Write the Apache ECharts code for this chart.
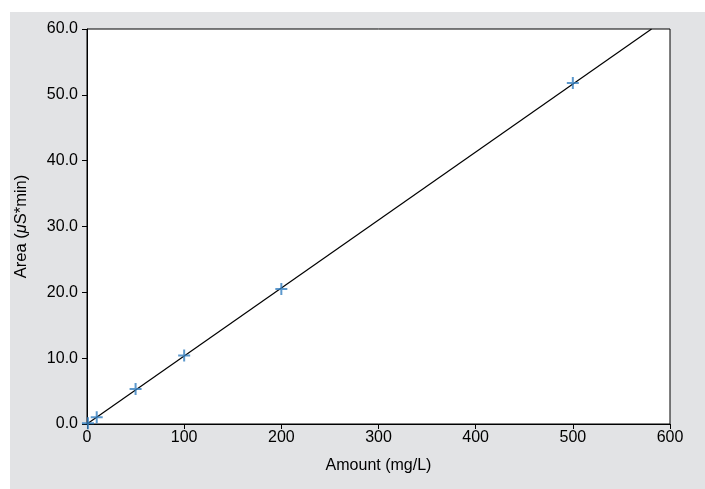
<!DOCTYPE html>
<html><head><meta charset="utf-8">
<script src="https://cdn.jsdelivr.net/npm/echarts@6/dist/echarts.min.js"></script>
<style>html,body{margin:0;padding:0;background:#e2e3e5;overflow:hidden}#c{width:712px;height:496px}</style>
</head><body><div id="c"></div>
<script>
const amounts = [1, 10, 50, 100, 200, 500];
const areas = [0.1, 1.04, 5.3, 10.4, 20.5, 51.8];
const fitX = [0, 581];
const fitY = [0, 60];
const xTicks = [0, 100, 200, 300, 400, 500, 600];
const yTicks = [0, 10, 20, 30, 40, 50, 60];

const chart = echarts.init(document.getElementById('c'));
const font = 'Liberation Sans, Arial, sans-serif';
chart.setOption({
  animation: false,
  backgroundColor: '#e2e3e5',
  graphic: [
    {type: 'rect', z: -10, shape: {x: 0, y: 0, width: 10, height: 496}, style: {fill: '#fff'}},
    {type: 'rect', z: -10, shape: {x: 0, y: 0, width: 712, height: 12}, style: {fill: '#fff'}}
  ],
  grid: {left: 87, top: 29, width: 583, height: 395, show: true, backgroundColor: '#fff', borderColor: '#000', borderWidth: 1},
  xAxis: {
    type: 'value', min: xTicks[0], max: xTicks[xTicks.length-1], interval: 100,
    name: 'Amount (mg/L)', nameLocation: 'middle', nameGap: 34,
    nameTextStyle: {fontFamily: font, fontSize: 16, color: '#000'},
    axisLine: {show: true, lineStyle: {color: '#000', width: 1}},
    axisTick: {show: true, length: 5, lineStyle: {color: '#000'}},
    axisLabel: {fontFamily: font, fontSize: 16, color: '#000', margin: 6},
    splitLine: {show: false}
  },
  yAxis: {
    type: 'value', min: yTicks[0], max: yTicks[yTicks.length-1], interval: 10,
    name: '{n|Area (}{i|μ}{n|S*min)}', nameLocation: 'middle', nameGap: 57, nameRotate: 90,
    nameTextStyle: {rich: {n: {fontFamily: font, fontSize: 16.5, color: '#000'}, i: {fontFamily: font, fontSize: 16.5, fontStyle: 'italic', color: '#000'}}},
    axisLine: {show: true, lineStyle: {color: '#000', width: 1}},
    axisTick: {show: true, length: 5, lineStyle: {color: '#000'}},
    axisLabel: {fontFamily: font, fontSize: 16, color: '#000', margin: 9, formatter: v => v.toFixed(1)},
    splitLine: {show: false}
  },
  series: [
    {type: 'line', data: fitX.map((x, i) => [x, fitY[i]]), symbol: 'none', lineStyle: {color: '#000', width: 1.2}, z: 2},
    {type: 'scatter', data: amounts.map((x, i) => [x, areas[i]]), symbol: 'path://M5,0 L7,0 L7,5 L12,5 L12,7 L7,7 L7,12 L5,12 L5,7 L0,7 L0,5 L5,5 Z', symbolSize: 12, itemStyle: {color: '#3580c0'}, z: 3}
  ]
});
</script></body></html>
